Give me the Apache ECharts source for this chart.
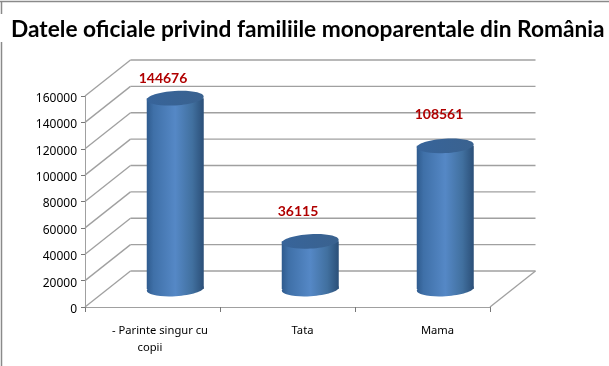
<!DOCTYPE html>
<html><head><meta charset="utf-8">
<style>html,body{margin:0;padding:0;background:#fff}#c{width:609px;height:366px}</style>
<script src="https://cdn.jsdelivr.net/npm/echarts@6/dist/echarts.min.js"></script>
</head><body><div id="c"></div>
<script>
const categories = ['- Parinte singur cu\ncopii', 'Tata', 'Mama'];
const values = [144676, 36115, 108561];
const yTicks = [0, 20000, 40000, 60000, 80000, 100000, 120000, 140000, 160000];
const titleText = 'Datele oficiale privind familiile monoparentale din România';

const DEPTH_X = 45.5, DEPTH_Y = -36;
const R_X = 28.5, R_Y = 7.2, TILT = 0.06;
const LABEL_SHIFT = [[10.5, -38], [10.5, -48], [16.5, -49]];
const GRID = '#a0a0a0';
const FRAME = '#8a8a8a';
const body = {type:'linear',x:0,y:0,x2:1,y2:0,colorStops:[
  {offset:0,color:'#2f5b8e'},{offset:0.12,color:'#3f70a8'},{offset:0.5,color:'#5588c6'},
  {offset:0.8,color:'#41709f'},{offset:1,color:'#2b4f78'}]};
const cap = {type:'linear',x:0,y:0,x2:1,y2:0,colorStops:[
  {offset:0,color:'#37649a'},{offset:1,color:'#3a628f'}]};
const labelFont = {fontFamily:'Noto Sans',fontSize:11.2,lineHeight:17,color:'#000'};

const chart = echarts.init(document.getElementById('c'), null, {renderer:'canvas'});
chart.setOption({
  animation:false,
  backgroundColor:'#fff',
  graphic:[
    {type:'line',silent:true,z:0,shape:{x1:0,y1:1.5,x2:609,y2:1.5},style:{stroke:FRAME,lineWidth:1.5}},
    {type:'line',silent:true,z:0,shape:{x1:1.5,y1:1,x2:1.5,y2:14},style:{stroke:FRAME,lineWidth:1.5}},
    {type:'line',silent:true,z:0,shape:{x1:1.5,y1:42,x2:1.5,y2:366},style:{stroke:FRAME,lineWidth:1.5}}
  ],
  title:{text:titleText,left:6,top:13,textStyle:{fontFamily:'Lato',fontWeight:'bold',fontSize:22.7,color:'#000'}},
  grid:{left:85,right:119,top:96,bottom:59},
  xAxis:{type:'category',data:categories,
    axisLine:{lineStyle:{color:GRID,width:1}},
    axisTick:{show:true,alignWithLabel:false,length:5,lineStyle:{color:'#777'}},
    axisLabel:Object.assign({margin:15,interval:0,padding:[0,0,0,30],
      formatter:v=>{const p=v.split('\n');return p.length>1?`{a|${p[0]}}\n{b|${p[1]}}`:v;},
      rich:{a:Object.assign({padding:[0,15,0,0]},labelFont),b:Object.assign({padding:[0,35,0,0]},labelFont)}},labelFont),
    splitLine:{show:false}},
  yAxis:{type:'value',min:0,max:160000,interval:20000,
    axisLine:{show:true,lineStyle:{color:GRID}},
    axisTick:{show:true,length:4,lineStyle:{color:'#777'}},
    axisLabel:{margin:8,verticalAlign:'top',lineHeight:5,color:'#000',fontFamily:'Noto Sans',fontSize:12,formatter:v=>String(v)},
    splitLine:{show:false}},
  series:[
   {type:'custom',silent:true,coordinateSystem:'cartesian2d',data:yTicks.map(t=>[0,t]),z:1,
    renderItem(p,api){
      const y=api.coord([0,api.value(1)])[1];
      const c=p.coordSys, x0=c.x, x1=c.x+c.width;
      const s={stroke:GRID,lineWidth:1.3,fill:null};
      const kids=[
        {type:'line',shape:{x1:x0,y1:y,x2:x0+DEPTH_X,y2:y+DEPTH_Y},style:s},
        {type:'line',shape:{x1:x0+DEPTH_X,y1:y+DEPTH_Y,x2:x1+DEPTH_X,y2:y+DEPTH_Y},style:s}];
      if(api.value(1)===0) kids.push({type:'line',shape:{x1:x1,y1:y,x2:x1+DEPTH_X,y2:y+DEPTH_Y},style:s});
      return {type:'group',children:kids};
    }},
   {type:'custom',silent:true,coordinateSystem:'cartesian2d',data:values.map((v,i)=>[i,v]),z:3,
    renderItem(p,api){
      const i=api.value(0);
      const t=api.coord([i,api.value(1)]), b=api.coord([i,0]);
      const cx=t[0]+DEPTH_X/2, ty=t[1]+DEPTH_Y/2, by=b[1]+DEPTH_Y/2;
      const ell=(y,fill)=>({type:'ellipse',x:cx,y:y,rotation:TILT,shape:{cx:0,cy:0,rx:R_X,ry:R_Y},style:{fill}});
      return {type:'group',children:[
        ell(by,body),
        {type:'rect',shape:{x:cx-R_X,y:ty,width:2*R_X,height:by-ty},style:{fill:body}},
        ell(ty,cap),
        {type:'text',x:t[0]+LABEL_SHIFT[i][0],y:t[1]+LABEL_SHIFT[i][1],
         style:{text:String(api.value(1)),align:'center',verticalAlign:'middle',fill:'#b00000',font:'bold 14px Lato'}}
      ]};
    }}
  ]
});
</script></body></html>
